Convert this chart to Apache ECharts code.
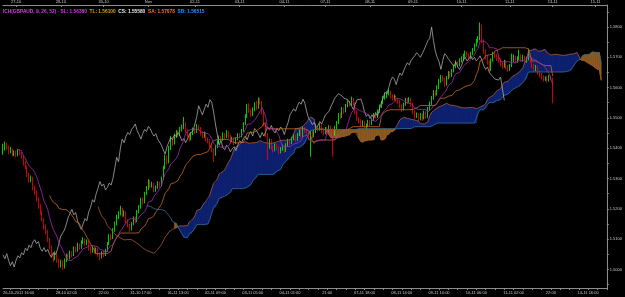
<!DOCTYPE html>
<html>
<head>
<meta charset="utf-8">
<script src="https://cdn.jsdelivr.net/npm/echarts@6/dist/echarts.min.js"></script>
<style>
  html, body { margin: 0; padding: 0; background: #000; }
  #chart { width: 625px; height: 297px; }
</style>
</head>
<body>
<div id="chart"></div>
<script>
// GBPAUD H1 candles: [open, close, low, high]
const candles = [
  [1.5385,1.5398,1.5378,1.5415],[1.5398,1.5410,1.5392,1.5422],[1.5410,1.5402,1.5395,1.5418],[1.5402,1.5389,1.5380,1.5408],
  [1.5389,1.5395,1.5383,1.5404],[1.5395,1.5380,1.5372,1.5399],[1.5380,1.5386,1.5374,1.5393],[1.5386,1.5378,1.5370,1.5392],
  [1.5378,1.5390,1.5373,1.5397],[1.5390,1.5384,1.5376,1.5396],[1.5384,1.5372,1.5365,1.5388],[1.5372,1.5350,1.5342,1.5376],
  [1.5350,1.5338,1.5330,1.5358],[1.5338,1.5312,1.5305,1.5342],[1.5312,1.5295,1.5286,1.5318],[1.5295,1.5301,1.5288,1.5310],
  [1.5301,1.5270,1.5262,1.5305],[1.5270,1.5255,1.5246,1.5276],[1.5255,1.5232,1.5225,1.5260],[1.5232,1.5210,1.5200,1.5238],
  [1.5210,1.5188,1.5180,1.5215],[1.5188,1.5165,1.5158,1.5194],[1.5165,1.5140,1.5132,1.5170],[1.5140,1.5125,1.5116,1.5148],
  [1.5125,1.5098,1.5090,1.5130],[1.5098,1.5075,1.5066,1.5104],[1.5075,1.5048,1.5040,1.5080],[1.5048,1.5035,1.5025,1.5056],
  [1.5035,1.5052,1.5030,1.5060],[1.5052,1.5030,1.5022,1.5058],[1.5030,1.5012,1.5004,1.5036],[1.5012,1.5025,1.5006,1.5032],
  [1.5025,1.5008,1.4998,1.5030],[1.5008,1.5030,1.5003,1.5036],[1.5030,1.5045,1.5024,1.5052],[1.5045,1.5038,1.5030,1.5050],
  [1.5038,1.5055,1.5033,1.5062],[1.5055,1.5048,1.5040,1.5060],[1.5048,1.5070,1.5044,1.5076],[1.5070,1.5062,1.5055,1.5075],
  [1.5062,1.5080,1.5058,1.5088],[1.5080,1.5072,1.5064,1.5085],[1.5072,1.5090,1.5068,1.5096],[1.5090,1.5098,1.5084,1.5106],
  [1.5098,1.5085,1.5078,1.5102],[1.5085,1.5092,1.5080,1.5099],[1.5092,1.5070,1.5062,1.5096],[1.5070,1.5060,1.5052,1.5075],
  [1.5060,1.5072,1.5055,1.5078],[1.5072,1.5058,1.5050,1.5077],[1.5058,1.5066,1.5052,1.5072],[1.5066,1.5050,1.5042,1.5070],
  [1.5050,1.5040,1.5030,1.5055],[1.5040,1.5055,1.5036,1.5060],[1.5055,1.5048,1.5040,1.5062],[1.5048,1.5062,1.5044,1.5068],
  [1.5062,1.5085,1.5058,1.5090],[1.5085,1.5110,1.5080,1.5116],[1.5110,1.5105,1.5096,1.5118],[1.5105,1.5130,1.5100,1.5136],
  [1.5130,1.5150,1.5124,1.5158],[1.5150,1.5172,1.5145,1.5180],[1.5172,1.5185,1.5166,1.5192],[1.5185,1.5198,1.5178,1.5210],
  [1.5198,1.5180,1.5172,1.5204],[1.5180,1.5188,1.5174,1.5195],[1.5188,1.5160,1.5152,1.5192],[1.5160,1.5145,1.5138,1.5166],
  [1.5145,1.5132,1.5124,1.5150],[1.5132,1.5150,1.5128,1.5156],[1.5150,1.5168,1.5146,1.5175],[1.5168,1.5160,1.5152,1.5174],
  [1.5160,1.5190,1.5156,1.5196],[1.5190,1.5205,1.5185,1.5212],[1.5205,1.5230,1.5200,1.5236],[1.5230,1.5222,1.5214,1.5238],
  [1.5222,1.5250,1.5218,1.5256],[1.5250,1.5268,1.5245,1.5275],[1.5268,1.5290,1.5262,1.5298],[1.5290,1.5275,1.5268,1.5295],
  [1.5275,1.5282,1.5270,1.5289],[1.5282,1.5262,1.5255,1.5286],[1.5262,1.5270,1.5256,1.5277],[1.5270,1.5285,1.5266,1.5291],
  [1.5285,1.5278,1.5270,1.5290],[1.5278,1.5300,1.5274,1.5306],[1.5300,1.5335,1.5296,1.5342],[1.5335,1.5370,1.5330,1.5378],
  [1.5370,1.5355,1.5346,1.5376],[1.5355,1.5400,1.5350,1.5408],[1.5400,1.5430,1.5394,1.5440],[1.5430,1.5418,1.5408,1.5436],
  [1.5418,1.5440,1.5412,1.5448],[1.5440,1.5452,1.5434,1.5460],[1.5452,1.5445,1.5436,1.5458],[1.5445,1.5462,1.5440,1.5470],
  [1.5462,1.5470,1.5455,1.5478],[1.5470,1.5480,1.5463,1.5503],[1.5480,1.5458,1.5450,1.5486],[1.5458,1.5445,1.5438,1.5464],
  [1.5445,1.5430,1.5422,1.5450],[1.5430,1.5448,1.5426,1.5454],[1.5448,1.5462,1.5443,1.5468],[1.5462,1.5455,1.5447,1.5467],
  [1.5455,1.5472,1.5450,1.5480],[1.5472,1.5465,1.5457,1.5477],[1.5465,1.5450,1.5442,1.5470],[1.5450,1.5440,1.5432,1.5456],
  [1.5440,1.5448,1.5434,1.5455],[1.5448,1.5430,1.5422,1.5452],[1.5430,1.5425,1.5416,1.5436],[1.5425,1.5410,1.5402,1.5430],
  [1.5410,1.5395,1.5386,1.5415],[1.5395,1.5380,1.5355,1.5400],[1.5380,1.5405,1.5375,1.5410],[1.5405,1.5420,1.5400,1.5426],
  [1.5420,1.5435,1.5414,1.5442],[1.5435,1.5428,1.5420,1.5440],[1.5428,1.5445,1.5424,1.5452],[1.5445,1.5438,1.5430,1.5450],
  [1.5438,1.5452,1.5434,1.5460],[1.5452,1.5440,1.5432,1.5456],[1.5440,1.5425,1.5418,1.5444],[1.5425,1.5432,1.5420,1.5438],
  [1.5432,1.5418,1.5410,1.5436],[1.5418,1.5430,1.5414,1.5436],[1.5430,1.5445,1.5426,1.5450],[1.5445,1.5440,1.5432,1.5450],
  [1.5440,1.5458,1.5436,1.5464],[1.5458,1.5480,1.5454,1.5486],[1.5480,1.5505,1.5476,1.5512],[1.5505,1.5540,1.5500,1.5546],
  [1.5540,1.5525,1.5516,1.5548],[1.5525,1.5510,1.5502,1.5530],[1.5510,1.5528,1.5506,1.5534],[1.5528,1.5545,1.5522,1.5552],
  [1.5545,1.5535,1.5526,1.5556],[1.5535,1.5560,1.5530,1.5568],[1.5560,1.5552,1.5544,1.5566],[1.5552,1.5520,1.5512,1.5556],
  [1.5520,1.5480,1.5472,1.5525],[1.5480,1.5445,1.5436,1.5486],[1.5445,1.5410,1.5360,1.5450],[1.5410,1.5425,1.5398,1.5432],
  [1.5425,1.5402,1.5394,1.5430],[1.5402,1.5395,1.5386,1.5408],[1.5395,1.5410,1.5390,1.5416],[1.5410,1.5402,1.5394,1.5414],
  [1.5402,1.5388,1.5380,1.5406],[1.5388,1.5398,1.5383,1.5404],[1.5398,1.5405,1.5392,1.5412],[1.5405,1.5392,1.5384,1.5410],
  [1.5392,1.5410,1.5388,1.5416],[1.5410,1.5425,1.5405,1.5431],[1.5425,1.5418,1.5410,1.5430],[1.5418,1.5432,1.5414,1.5438],
  [1.5432,1.5440,1.5426,1.5447],[1.5440,1.5428,1.5420,1.5444],[1.5428,1.5445,1.5424,1.5450],[1.5445,1.5455,1.5440,1.5462],
  [1.5455,1.5440,1.5432,1.5460],[1.5440,1.5465,1.5436,1.5472],[1.5465,1.5458,1.5450,1.5470],[1.5458,1.5448,1.5440,1.5462],
  [1.5448,1.5435,1.5427,1.5452],[1.5435,1.5452,1.5372,1.5458],[1.5452,1.5440,1.5432,1.5457],[1.5440,1.5455,1.5436,1.5460],
  [1.5455,1.5470,1.5450,1.5476],[1.5470,1.5462,1.5455,1.5475],[1.5462,1.5475,1.5458,1.5482],[1.5475,1.5458,1.5450,1.5480],
  [1.5458,1.5450,1.5442,1.5463],[1.5450,1.5465,1.5446,1.5470],[1.5465,1.5458,1.5450,1.5469],[1.5458,1.5470,1.5453,1.5476],
  [1.5470,1.5462,1.5455,1.5475],[1.5462,1.5445,1.5372,1.5466],[1.5445,1.5468,1.5440,1.5474],[1.5468,1.5485,1.5463,1.5490],
  [1.5485,1.5510,1.5480,1.5516],[1.5510,1.5505,1.5496,1.5518],[1.5505,1.5530,1.5500,1.5536],[1.5530,1.5522,1.5514,1.5535],
  [1.5522,1.5540,1.5518,1.5546],[1.5540,1.5552,1.5535,1.5558],[1.5552,1.5545,1.5537,1.5556],[1.5545,1.5562,1.5540,1.5570],
  [1.5562,1.5548,1.5540,1.5566],[1.5548,1.5520,1.5512,1.5552],[1.5520,1.5498,1.5490,1.5525],[1.5498,1.5490,1.5482,1.5504],
  [1.5490,1.5478,1.5470,1.5495],[1.5478,1.5485,1.5472,1.5492],[1.5485,1.5468,1.5460,1.5490],[1.5468,1.5475,1.5462,1.5481],
  [1.5475,1.5488,1.5470,1.5494],[1.5488,1.5480,1.5472,1.5492],[1.5480,1.5495,1.5476,1.5500],[1.5495,1.5510,1.5490,1.5516],
  [1.5510,1.5505,1.5497,1.5515],[1.5505,1.5522,1.5500,1.5528],[1.5522,1.5538,1.5517,1.5544],[1.5538,1.5550,1.5533,1.5556],
  [1.5550,1.5565,1.5545,1.5572],[1.5565,1.5572,1.5560,1.5580],[1.5572,1.5580,1.5566,1.5588],[1.5580,1.5585,1.5574,1.5594],
  [1.5585,1.5572,1.5564,1.5590],[1.5572,1.5565,1.5557,1.5578],[1.5565,1.5570,1.5560,1.5577],[1.5570,1.5560,1.5552,1.5574],
  [1.5560,1.5555,1.5547,1.5566],[1.5555,1.5540,1.5532,1.5560],[1.5540,1.5528,1.5520,1.5545],[1.5528,1.5545,1.5524,1.5550],
  [1.5545,1.5560,1.5540,1.5566],[1.5560,1.5555,1.5547,1.5565],[1.5555,1.5562,1.5550,1.5568],[1.5562,1.5545,1.5537,1.5566],
  [1.5545,1.5520,1.5512,1.5550],[1.5520,1.5505,1.5497,1.5525],[1.5505,1.5512,1.5500,1.5518],[1.5512,1.5498,1.5488,1.5516],
  [1.5498,1.5510,1.5492,1.5516],[1.5510,1.5500,1.5490,1.5514],[1.5500,1.5518,1.5495,1.5524],[1.5518,1.5505,1.5497,1.5522],
  [1.5505,1.5530,1.5500,1.5536],[1.5530,1.5548,1.5525,1.5554],[1.5548,1.5565,1.5543,1.5572],[1.5565,1.5585,1.5560,1.5592],
  [1.5585,1.5578,1.5570,1.5590],[1.5578,1.5600,1.5574,1.5607],[1.5600,1.5622,1.5595,1.5628],[1.5622,1.5635,1.5616,1.5642],
  [1.5635,1.5628,1.5620,1.5640],[1.5628,1.5610,1.5602,1.5632],[1.5610,1.5632,1.5606,1.5638],[1.5632,1.5648,1.5627,1.5655],
  [1.5648,1.5640,1.5632,1.5652],[1.5640,1.5655,1.5635,1.5661],[1.5655,1.5670,1.5650,1.5676],[1.5670,1.5682,1.5664,1.5690],
  [1.5682,1.5675,1.5667,1.5688],[1.5675,1.5690,1.5670,1.5697],[1.5690,1.5695,1.5683,1.5703],[1.5695,1.5705,1.5688,1.5712],
  [1.5705,1.5715,1.5699,1.5722],[1.5715,1.5708,1.5700,1.5720],[1.5708,1.5700,1.5692,1.5713],[1.5700,1.5712,1.5695,1.5718],
  [1.5712,1.5725,1.5707,1.5731],[1.5725,1.5740,1.5720,1.5746],[1.5740,1.5755,1.5735,1.5761],[1.5755,1.5762,1.5748,1.5770],
  [1.5762,1.5800,1.5756,1.5815],[1.5800,1.5755,1.5746,1.5808],[1.5755,1.5720,1.5712,1.5760],[1.5720,1.5700,1.5692,1.5726],
  [1.5700,1.5685,1.5676,1.5706],[1.5685,1.5660,1.5648,1.5690],[1.5660,1.5690,1.5655,1.5696],[1.5690,1.5712,1.5685,1.5718],
  [1.5712,1.5705,1.5697,1.5720],[1.5705,1.5695,1.5688,1.5712],[1.5695,1.5690,1.5682,1.5706],[1.5690,1.5678,1.5670,1.5696],
  [1.5678,1.5670,1.5662,1.5684],[1.5670,1.5685,1.5666,1.5692],[1.5685,1.5668,1.5660,1.5690],[1.5668,1.5660,1.5652,1.5674],
  [1.5660,1.5672,1.5655,1.5678],[1.5672,1.5690,1.5668,1.5712],[1.5690,1.5700,1.5684,1.5710],[1.5700,1.5688,1.5680,1.5706],
  [1.5688,1.5695,1.5682,1.5703],[1.5695,1.5705,1.5690,1.5725],[1.5705,1.5692,1.5685,1.5710],[1.5692,1.5700,1.5686,1.5708],
  [1.5700,1.5688,1.5680,1.5705],[1.5688,1.5695,1.5682,1.5702],[1.5695,1.5705,1.5690,1.5728],[1.5705,1.5690,1.5682,1.5712],
  [1.5690,1.5672,1.5664,1.5696],[1.5672,1.5660,1.5652,1.5678],[1.5660,1.5668,1.5654,1.5675],[1.5668,1.5650,1.5642,1.5672],
  [1.5650,1.5642,1.5634,1.5656],[1.5642,1.5635,1.5627,1.5648],[1.5635,1.5628,1.5620,1.5640],[1.5628,1.5632,1.5622,1.5638],
  [1.5632,1.5625,1.5617,1.5637],[1.5625,1.5635,1.5620,1.5641],[1.5635,1.5630,1.5624,1.5640],[1.5630,1.5558,1.5548,1.5634]
];

const ichiPeriods = [9, 26, 52];   // tenkan, kijun, senkou B
const futureBars = 29;             // bars drawn right of the last candle
const kumoFillFrom = 92;           // the terminal only shades the cloud from this bar on

const bottomTickIdx = [0, 34, 54, 74, 94, 114, 134, 154, 174, 194, 214, 234, 254, 274, 294, 314];
const bottomTickLabels = ['26-10-2011 16:00', '28-10 02:00', '22:00', '31-10 17:00', '01-11 13:00', '02-11 09:00',
  '03-11 05:00', '04-11 01:00', '21:00', '07-11 18:00', '08-11 14:00', '09-11 10:00', '10-11 06:00',
  '11-11 02:00', '22:00', '14-11 16:00'];
const topTickIdx = [7, 31, 54, 78, 103, 127, 151, 173, 197, 220, 246, 272, 295, 318];
const topTickLabels = ['27-10', '28-10', '30-10', 'Nov', '02-11', '03-11', '04-11', '07-11', '08-11',
  '09-11', '10-11', '11-11', '13-11', '15-11'];
const priceLabels = [1.50, 1.51, 1.52, 1.53, 1.54, 1.55, 1.56, 1.57, 1.58];
const priceTicks = [1.495, 1.500, 1.505, 1.510, 1.515, 1.520, 1.525, 1.530, 1.535, 1.540, 1.545,
  1.550, 1.555, 1.560, 1.565, 1.570, 1.575, 1.580, 1.585];

const total = candles.length + futureBars;
const categories = [];
for (let i = 0; i < total; i++) categories.push(String(i));

// middle of high/low range over n bars ending at i
function midRange(i, n) {
  if (i < n - 1 || i >= candles.length) return null;
  let hi = -Infinity, lo = Infinity;
  for (let k = i - n + 1; k <= i; k++) {
    hi = Math.max(hi, candles[k][3]);
    lo = Math.min(lo, candles[k][2]);
  }
  return (hi + lo) / 2;
}

const [pT, pK, pS] = ichiPeriods;
const tenkan = [], kijun = [], spanA = [], spanB = [], chikou = [];
for (let i = 0; i < total; i++) {
  tenkan.push(midRange(i, pT));
  kijun.push(midRange(i, pK));
  spanA.push(null); spanB.push(null); chikou.push(null);
}
for (let i = 0; i < candles.length; i++) {
  if (tenkan[i] !== null && kijun[i] !== null) spanA[i + pK] = (tenkan[i] + kijun[i]) / 2;
  const b = midRange(i, pS);
  if (b !== null) spanB[i + pK] = b;
  if (i >= pK) chikou[i - pK] = candles[i][1];
}
const toSeries = arr => arr.map(v => (v === null ? '-' : v));

const cloudData = [];
for (let i = kumoFillFrom; i < total - 1; i++) {
  if (spanA[i] !== null && spanB[i] !== null && spanA[i + 1] !== null && spanB[i + 1] !== null) {
    cloudData.push([i, spanA[i], spanB[i], spanA[i + 1], spanB[i + 1]]);
  }
}

const upKumo = '#0f2272';
const downKumo = '#8c5b22';

function renderCloud(params, api) {
  const i = api.value(0);
  const va0 = api.value(1), vb0 = api.value(2), va1 = api.value(3), vb1 = api.value(4);
  const a0 = api.coord([i, va0]), b0 = api.coord([i, vb0]);
  const a1 = api.coord([i + 1, va1]), b1 = api.coord([i + 1, vb1]);
  const d0 = va0 - vb0, d1 = va1 - vb1;
  const poly = (pts, up) => ({
    type: 'polygon',
    shape: { points: pts },
    style: { fill: up ? upKumo : downKumo, stroke: up ? upKumo : downKumo, lineWidth: 0.6 }
  });
  if (d0 * d1 >= 0) return poly([a0, a1, b1, b0], d0 + d1 >= 0);
  const t = d0 / (d0 - d1);
  const c = [a0[0] + t * (a1[0] - a0[0]), a0[1] + t * (a1[1] - a0[1])];
  return { type: 'group', children: [poly([a0, c, b0], d0 > 0), poly([c, a1, b1], d1 > 0)] };
}

const last = candles.length - 1;
const lastClose = candles[last][1];
const fmt = v => v.toFixed(5);

const chart = echarts.init(document.getElementById('chart'), null, { renderer: 'canvas' });
const axisGrey = '#8c8c8c';
const labelGrey = '#c8c8c8';
const tinyFont = 'Liberation Sans, Arial, sans-serif';

chart.setOption({
  animation: false,
  backgroundColor: '#000',
  title: {
    left: 3,
    top: 9,
    padding: 0,
    text: '{t|ICH(GBPAUD, 9, 26, 52) - SL: ' + fmt(kijun[last]) + '}  {k|TL: ' + fmt(tenkan[last]) +
      '}  {c|CS: ' + fmt(lastClose) + '}  {a|SA: ' + fmt(spanA[last]) + '}  {b|SB: ' + fmt(spanB[last]) + '}',
    textStyle: {
      fontSize: 4.8,
      fontFamily: tinyFont,
      rich: {
        t: { color: '#d040e0', fontSize: 4.8, fontFamily: tinyFont },
        k: { color: '#d8a020', fontSize: 4.8, fontFamily: tinyFont },
        c: { color: '#e8e8e8', fontSize: 4.8, fontFamily: tinyFont },
        a: { color: '#ff7020', fontSize: 4.8, fontFamily: tinyFont },
        b: { color: '#2f8fff', fontSize: 4.8, fontFamily: tinyFont }
      }
    }
  },
  grid: { left: 0, right: 17, top: 5, bottom: 9 },
  xAxis: [{
    type: 'category',
    data: categories,
    boundaryGap: false,
    axisLine: { lineStyle: { color: axisGrey, width: 1 } },
    axisTick: {
      interval: idx => idx % 5 === 4,
      length: 2,
      lineStyle: { color: axisGrey }
    },
    axisLabel: {
      interval: idx => bottomTickIdx.includes(idx),
      formatter: (v) => bottomTickLabels[bottomTickIdx.indexOf(Number(v))] || '',
      alignMinLabel: 'left',
      color: labelGrey,
      fontSize: 4,
      fontFamily: tinyFont,
      margin: 3
    },
    splitLine: { show: false }
  }, {
    type: 'category',
    data: categories,
    boundaryGap: false,
    position: 'top',
    axisLine: { lineStyle: { color: axisGrey, width: 1 } },
    axisTick: {
      interval: idx => topTickIdx.includes(idx),
      length: 2,
      inside: true,
      lineStyle: { color: axisGrey }
    },
    axisLabel: {
      interval: idx => topTickIdx.includes(idx),
      formatter: (v) => topTickLabels[topTickIdx.indexOf(Number(v))] || '',
      color: labelGrey,
      fontSize: 4,
      fontFamily: tinyFont,
      margin: 1
    },
    splitLine: { show: false }
  }],
  yAxis: {
    type: 'value',
    position: 'right',
    min: 1.49386,
    max: 1.58726,
    scale: true,
    axisLine: { show: true, lineStyle: { color: axisGrey, width: 1 } },
    axisTick: { show: true, customValues: priceTicks, length: 2, lineStyle: { color: axisGrey } },
    axisLabel: {
      customValues: priceLabels,
      formatter: v => v.toFixed(4),
      color: labelGrey,
      fontSize: 4,
      fontFamily: tinyFont,
      margin: 3
    },
    splitLine: { show: false }
  },
  series: [
    {
      name: 'Kumo',
      type: 'custom',
      renderItem: renderCloud,
      data: cloudData,
      encode: { x: 0, y: [1, 2, 3, 4] },
      z: 1,
      silent: true
    },
    {
      name: 'GBPAUD',
      type: 'candlestick',
      data: candles,
      barWidth: 1.2,
      itemStyle: {
        color: '#00ff00',
        color0: '#ff0000',
        borderColor: '#00ff00',
        borderColor0: '#ff0000',
        borderWidth: 0.8
      },
      z: 2,
      markLine: {
        silent: true,
        symbol: 'none',
        lineStyle: { opacity: 0 },
        label: {
          position: 'end',
          distance: 3,
          formatter: fmt(lastClose),
          backgroundColor: '#2f8fd8',
          color: '#ffffff',
          fontSize: 4,
          fontFamily: tinyFont,
          padding: [1, 1]
        },
        data: [{ yAxis: lastClose }]
      }
    },
    { name: 'Senkou A', type: 'line', data: toSeries(spanA), showSymbol: false, z: 3,
      lineStyle: { color: '#a8582a', width: 0.8 } },
    { name: 'Senkou B', type: 'line', data: toSeries(spanB), showSymbol: false, z: 3,
      lineStyle: { color: '#2d6f96', width: 0.8 } },
    { name: 'Chikou', type: 'line', data: toSeries(chikou), showSymbol: false, z: 3,
      lineStyle: { color: '#a8a8a8', width: 0.8 } },
    { name: 'Kijun', type: 'line', data: toSeries(kijun), showSymbol: false, z: 3,
      lineStyle: { color: '#c46a24', width: 0.8 } },
    { name: 'Tenkan', type: 'line', data: toSeries(tenkan), showSymbol: false, z: 3,
      lineStyle: { color: '#a02cb0', width: 0.8 } }
  ]
});
</script>
</body>
</html>
